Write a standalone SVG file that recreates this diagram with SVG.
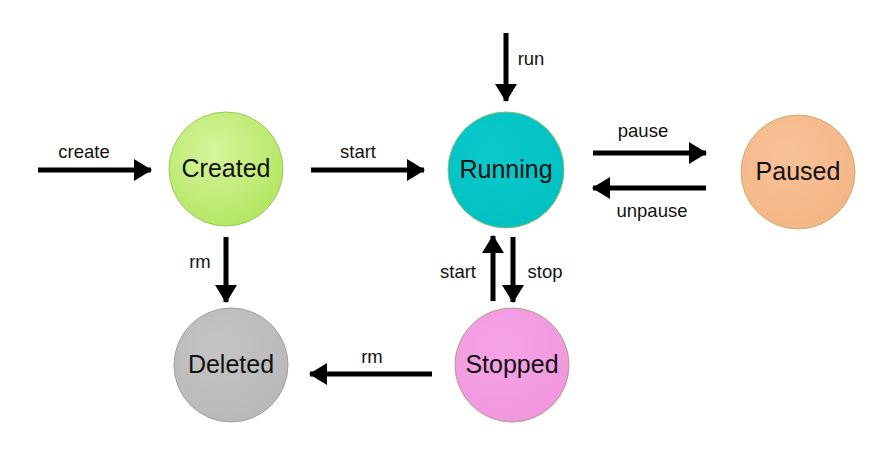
<svg xmlns="http://www.w3.org/2000/svg" width="887" height="467" viewBox="0 0 887 467">
<defs>
<style>
.lbl{font-family:"Liberation Sans",Arial,sans-serif;font-size:18.5px;fill:#111;text-anchor:middle}
.nl{font-family:"Liberation Sans",Arial,sans-serif;font-size:25px;fill:#111;text-anchor:middle}
.edge{stroke:#000;stroke-width:5;fill:none;marker-end:url(#ah)}
</style>
<marker id="ah" markerUnits="userSpaceOnUse" markerWidth="18" markerHeight="22" refX="17" refY="11" orient="auto">
<path d="M0,0 L18,11 L0,22 Z" fill="#000"/>
</marker>
<radialGradient id="gCreated" cx="0.4" cy="0.35" r="0.7"><stop offset="0" stop-color="#d6f59c"/><stop offset="1" stop-color="#b2e660"/></radialGradient>
<radialGradient id="gRunning" cx="0.4" cy="0.35" r="0.7"><stop offset="0" stop-color="#0ccaca"/><stop offset="1" stop-color="#00c0c2"/></radialGradient>
<radialGradient id="gPaused" cx="0.4" cy="0.35" r="0.7"><stop offset="0" stop-color="#f8c298"/><stop offset="1" stop-color="#f4b584"/></radialGradient>
<radialGradient id="gDeleted" cx="0.4" cy="0.35" r="0.7"><stop offset="0" stop-color="#c4c4c4"/><stop offset="1" stop-color="#b8b8b8"/></radialGradient>
<radialGradient id="gStopped" cx="0.4" cy="0.35" r="0.7"><stop offset="0" stop-color="#f6a4e6"/><stop offset="1" stop-color="#f096dd"/></radialGradient>
</defs>
<rect width="887" height="467" fill="#fff"/>
<g id="connectors">
<line class="edge" x1="38" y1="170" x2="151" y2="170"/>
<line class="edge" x1="311" y1="170" x2="424" y2="170"/>
<line class="edge" x1="506" y1="33" x2="506" y2="101"/>
<line class="edge" x1="593" y1="153" x2="706" y2="153"/>
<line class="edge" x1="706" y1="188" x2="593" y2="188"/>
<line class="edge" x1="226" y1="237" x2="226" y2="302"/>
<line class="edge" x1="493" y1="301" x2="493" y2="236"/>
<line class="edge" x1="513" y1="237" x2="513" y2="302"/>
<line class="edge" x1="432" y1="374" x2="310" y2="374"/>
<text class="lbl" x="84" y="158">create</text>
<text class="lbl" x="358" y="158">start</text>
<text class="lbl" x="531" y="65">run</text>
<text class="lbl" x="643" y="137">pause</text>
<text class="lbl" x="652" y="217">unpause</text>
<text class="lbl" x="200" y="268">rm</text>
<text class="lbl" x="458" y="278">start</text>
<text class="lbl" x="545" y="278">stop</text>
<text class="lbl" x="372" y="363">rm</text>
</g>
<g id="created">
<circle cx="226" cy="169" r="57" fill="url(#gCreated)" stroke="#9cc860" stroke-width="1"/>
<text class="nl" x="226" y="177">Created</text>
</g>
<g id="running">
<circle cx="506" cy="170" r="58" fill="url(#gRunning)" stroke="#8cbf6a" stroke-width="1"/>
<text class="nl" x="506" y="178">Running</text>
</g>
<g id="paused">
<circle cx="798" cy="172" r="57" fill="url(#gPaused)" stroke="#c8b070" stroke-width="1"/>
<text class="nl" x="798" y="180">Paused</text>
</g>
<g id="deleted">
<circle cx="231" cy="365" r="57" fill="url(#gDeleted)" stroke="#a0a0a0" stroke-width="1"/>
<text class="nl" x="231" y="373">Deleted</text>
</g>
<g id="stopped">
<circle cx="512" cy="365" r="57" fill="url(#gStopped)" stroke="#b89a80" stroke-width="1"/>
<text class="nl" x="512" y="373">Stopped</text>
</g>
</svg>
